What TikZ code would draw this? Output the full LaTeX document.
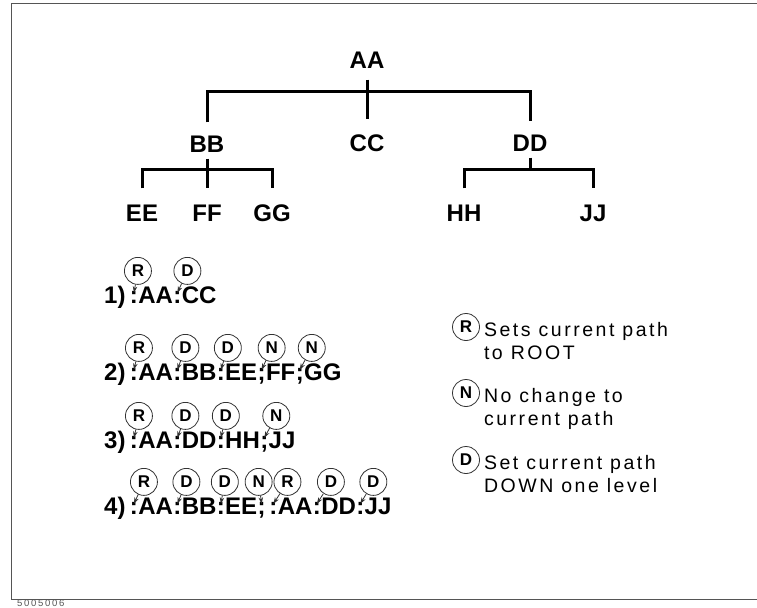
\documentclass[tikz,border=0pt]{standalone}
\usepackage{fontspec}
\setmainfont{Liberation Sans}
\newfontfamily\legendfont[LetterSpace=13]{Liberation Sans}
\newfontfamily\fignofont[LetterSpace=18]{Liberation Sans}
\usetikzlibrary{positioning, arrows.meta}
\definecolor{framegray}{RGB}{85,85,85}
\definecolor{taggray}{RGB}{50,50,50}

\tikzset{
    lvl/.style={font=\fontsize{24bp}{26bp}\selectfont\bfseries, text height=17bp, text depth=0bp, inner ysep=6bp, inner xsep=0bp},
    branch/.style={line width=3bp, black},
    seg/.style={font=\fontsize{24bp}{26bp}\selectfont\bfseries, inner sep=0bp, text height=17bp, text depth=4bp},
    sepseg/.style={seg, text height=10bp},
    tag/.style={circle, draw=taggray, line width=0.8bp, minimum size=27bp, inner sep=0bp, font=\fontsize{17bp}{17bp}\selectfont\bfseries},
    tagarrow/.style={-{Stealth[length=6.5bp, width=4.5bp]}, taggray, line width=0.8bp},
    legend/.style={font=\fontsize{19.5bp}{23bp}\legendfont, align=left, anchor=north west, inner sep=0bp}
}

\begin{document}
\begin{tikzpicture}[x=1bp, y=-1bp]
    \useasboundingbox (0,0) rectangle (757,608);

    % --- Frame and figure number ---
    \draw[framegray, line width=1bp] (757,4) -- (11,4) -- (11,599) -- (757,599);
    \node[font=\fontsize{9.5bp}{10bp}\fignofont, text=framegray, anchor=base west, inner sep=0bp] (figno) at (17,606.5) {5005006};

    % --- Tree of nodes ---
    \node[lvl] (AA) at (367,60) {AA};
    \node[lvl] (BB) at (207,144) {BB};
    \node[lvl] (CC) at (367,143) {CC};
    \node[lvl] (DD) at (530,143) {DD};
    \node[lvl] (EE) at (142,213) {EE};
    \node[lvl] (FF) at (207,213) {FF};
    \node[lvl] (GG) at (272,213) {GG};
    \node[lvl] (HH) at (464,213) {HH};
    \node[lvl] (JJ) at (593,213) {JJ};

    \coordinate (barA) at (367,92);
    \coordinate (barB) at (207,170);
    \coordinate (barD) at (530,170);

    \draw[branch, shorten <=5bp, shorten >=9bp] (AA.south) -- (CC.north);
    \draw[branch, shorten <=7bp, shorten >=7bp] (BB.north) |- (barA) -| (DD.north);
    \draw[branch, shorten >=10bp] (BB.south) -- (FF.north);
    \draw[branch, shorten <=10bp, shorten >=10bp] (EE.north) |- (barB) -| (GG.north);
    \draw[branch] (DD.south) -- (barD);
    \draw[branch, shorten <=10bp, shorten >=10bp] (HH.north) |- (barD) -| (JJ.north);

    % --- Example paths with tags ---
    \node[seg, anchor=base west, inner xsep=4bp] (r1w0) at (100,303) {1)};
    \foreach \sep/\word/\kind/\dx [count=\i, remember=\i as \j (initially 0)] in {:/AA/R/4, :/CC/D/10} {
        \node[sepseg, base right=0bp of r1w\j] (r1s\i) {\sep};
        \node[seg, base right=0bp of r1s\i] (r1w\i) {\word};
        \node[tag, above=8bp of r1s\i, xshift=\dx bp] (r1t\i) {\kind};
        \draw[tagarrow] (r1t\i) -- (r1s\i.north);
    }

    \node[seg, anchor=base west, inner xsep=4bp] (r2w0) at (100,380) {2)};
    \foreach \sep/\word/\kind/\dx [count=\i, remember=\i as \j (initially 0)] in {:/AA/R/5, :/BB/D/8, :/EE/D/7, ;/FF/N/10, ;/GG/N/12} {
        \node[sepseg, base right=0bp of r2w\j] (r2s\i) {\sep};
        \node[seg, base right=0bp of r2s\i] (r2w\i) {\word};
        \node[tag, above=8bp of r2s\i, xshift=\dx bp] (r2t\i) {\kind};
        \draw[tagarrow] (r2t\i) -- (r2s\i.north);
    }

    \node[seg, anchor=base west, inner xsep=4bp] (r3w0) at (100,448) {3)};
    \foreach \sep/\word/\kind/\dx [count=\i, remember=\i as \j (initially 0)] in {:/AA/R/5, :/DD/D/8, :/HH/D/5, ;/JJ/N/12} {
        \node[sepseg, base right=0bp of r3w\j] (r3s\i) {\sep};
        \node[seg, base right=0bp of r3s\i] (r3w\i) {\word};
        \node[tag, above=8bp of r3s\i, xshift=\dx bp] (r3t\i) {\kind};
        \draw[tagarrow] (r3t\i) -- (r3s\i.north);
    }

    \node[seg, anchor=base west, inner xsep=4bp] (r4w0) at (100,514) {4)};
    \foreach \sep/\word/\kind/\dx [count=\i, remember=\i as \j (initially 0)] in {:/AA/R/10, :/BB/D/9, :/EE/D/4, ;/{\hspace*{3bp}}/N/-3, :/AA/R/14, :/DD/D/14, :/JJ/D/13} {
        \node[sepseg, base right=0bp of r4w\j] (r4s\i) {\sep};
        \node[seg, base right=0bp of r4s\i] (r4w\i) {\word};
        \node[tag, above=8bp of r4s\i, xshift=\dx bp] (r4t\i) {\kind};
        \draw[tagarrow] (r4t\i) -- (r4s\i.north);
    }

    % --- Legend ---
    \node[tag] (lgR) at (466,327) {R};
    \node[tag] (lgN) at (466,393) {N};
    \node[tag] (lgD) at (466,460) {D};
    \node[legend] (lgRtxt) at ([xshift=8bp, yshift=-5bp]lgR.north east) {Sets current path\\to ROOT};
    \node[legend] (lgNtxt) at ([xshift=8bp, yshift=-5bp]lgN.north east) {No change to\\current path};
    \node[legend] (lgDtxt) at ([xshift=8bp, yshift=-5bp]lgD.north east) {Set current path\\DOWN one level};
\end{tikzpicture}
\end{document}
